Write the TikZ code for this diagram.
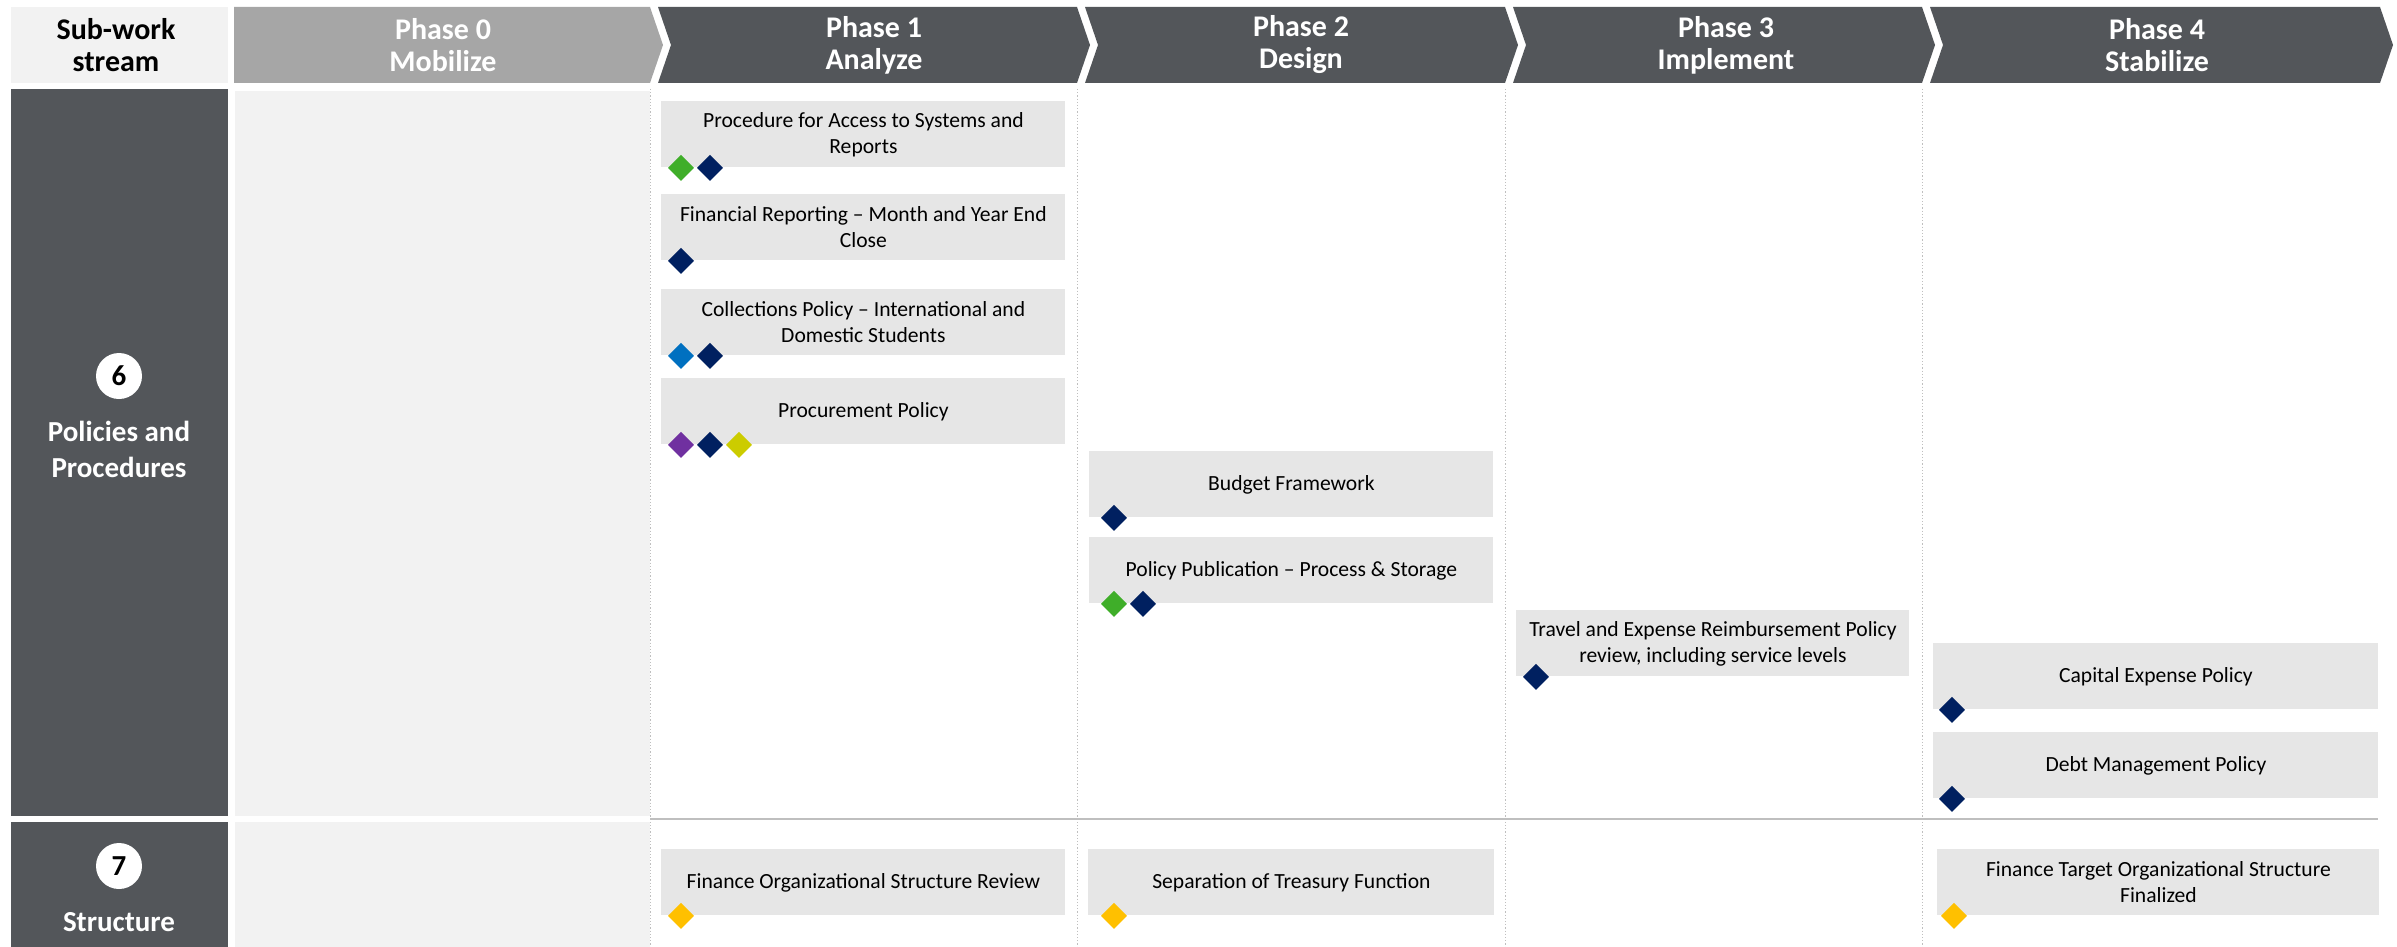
\documentclass[tikz,border=0pt]{standalone}
\usepackage{fontspec}
\setmainfont{Carlito}
\usetikzlibrary{calc}

\definecolor{slate}{HTML}{53565A}
\definecolor{phasegray}{HTML}{A6A6A6}
\definecolor{palegray}{HTML}{F2F2F2}
\definecolor{boxgray}{HTML}{E6E6E6}
\definecolor{linegray}{HTML}{BFBFBF}
\definecolor{mknavy}{HTML}{002060}
\definecolor{mkgreen}{HTML}{3FAE29}
\definecolor{mkblue}{HTML}{0070C0}
\definecolor{mkplum}{HTML}{7030A0}
\definecolor{mkolive}{HTML}{CCCC00}
\definecolor{mkgold}{HTML}{FFC000}

% diamond marker sitting on a point
\newcommand{\gem}[2]{\fill[#1] (#2) +(-13,0) -- +(0,-13) -- +(13,0) -- +(0,13) -- cycle;}

\tikzset{
  task/.style={fill=boxgray, anchor=north west, minimum width=#1, minimum height=33pt,
    inner sep=0pt, align=center, font=\fontsize{10.8}{13}\selectfont},
  phase/.style={text=white, align=center, font=\bfseries\fontsize{15}{16}\selectfont},
  lane/.style={text=white, align=center, font=\bfseries\fontsize{14.5}{18}\selectfont},
  badge/.style={circle, fill=white, minimum size=23pt, inner sep=0pt,
    font=\bfseries\fontsize{14.5}{16}\selectfont}
}

\begin{document}
\begin{tikzpicture}[x=0.5pt,y=-0.5pt]
    \useasboundingbox (0,0) rectangle (2397,947);

    % Header row
    \fill[palegray] (11,7) rectangle (228,83);
    \fill[phasegray] (234,7) -- (650,7) -- (663,45) -- (650,83) -- (234,83) -- cycle;
    \fill[slate] (658,7) -- (1077,7) -- (1090,45) -- (1077,83) -- (658,83) -- (671,45) -- cycle;
    \fill[slate] (1085,7) -- (1505,7) -- (1518,45) -- (1505,83) -- (1085,83) -- (1098,45) -- cycle;
    \fill[slate] (1513,7) -- (1922,7) -- (1935,45) -- (1922,83) -- (1513,83) -- (1526,45) -- cycle;
    \fill[slate] (1930,7) -- (2380,7) -- (2393,45) -- (2380,83) -- (1930,83) -- (1943,45) -- cycle;

    \node[phase, text=black] (sub) at (116,45) {Sub-work\\stream};
    \node[phase] (ph0) at (443,45) {Phase 0\\Mobilize};
    \node[phase] (ph1) at (874,45) {Phase 1\\Analyze};
    \node[phase] (ph2) at (1301,45) {Phase 2\\Design};
    \node[phase] (ph3) at (1726,45) {Phase 3\\Implement};
    \node[phase] (ph4) at (2157,45) {Phase 4\\Stabilize};

    % Lane backgrounds
    \fill[slate] (11,89) rectangle (228,816);
    \fill[slate] (11,822) rectangle (228,947);
    \fill[palegray] (235,91) rectangle (650,816);
    \fill[palegray] (235,822) rectangle (650,947);

    % Column split lines
    \draw[linegray, line width=0.5pt, dash pattern=on 0.6pt off 1pt] (650,89) -- (650,947);
    \draw[linegray, line width=0.5pt, dash pattern=on 0.6pt off 1pt] (1077,89) -- (1077,947);
    \draw[linegray, line width=0.5pt, dash pattern=on 0.6pt off 1pt] (1505,89) -- (1505,947);
    \draw[linegray, line width=0.5pt, dash pattern=on 0.6pt off 1pt] (1922,89) -- (1922,947);
    \draw[linegray, line width=1pt] (650,819) -- (2378,819);

    % Lane labels
    \node[badge] (n6) at (119,376) {6};
    \node[lane] (l6) at (119,449) {Policies and\\Procedures};
    \node[badge] (n7) at (119,866) {7};
    \node[lane] (l7) at (119,922) {Structure};

    % Phase 1 tasks
    \node[task=202pt] (acc) at (661,101) {Procedure for Access to Systems and\\Reports};
    \node[task=202pt] (fin) at (661,194) {Financial Reporting -- Month and Year End\\Close};
    \node[task=202pt] (col) at (661,289) {Collections Policy -- International and\\Domestic Students};
    \node[task=202pt] (pro) at (661,378) {Procurement Policy};

    % Phase 2 tasks
    \node[task=202pt] (bud) at (1089,451) {Budget Framework};
    \node[task=202pt] (pub) at (1089,537) {Policy Publication -- Process \& Storage};

    % Phase 3 and 4 tasks
    \node[task=196.5pt] (trv) at (1516,610) {Travel and Expense Reimbursement Policy\\review, including service levels};
    \node[task=222.5pt] (cap) at (1933,643) {Capital Expense Policy};
    \node[task=222.5pt] (dbt) at (1933,732) {Debt Management Policy};

    % Structure tasks
    \node[task=202pt] (org) at (661,849) {Finance Organizational Structure Review};
    \node[task=203pt] (trs) at (1088,849) {Separation of Treasury Function};
    \node[task=221pt] (tgt) at (1937,849) {Finance Target Organizational Structure\\Finalized};

    % Markers
    \gem{mkgreen}{$(acc.south west)+(20,0)$}
    \gem{mknavy}{$(acc.south west)+(49,0)$}
    \gem{mknavy}{$(fin.south west)+(20,0)$}
    \gem{mkblue}{$(col.south west)+(20,0)$}
    \gem{mknavy}{$(col.south west)+(49,0)$}
    \gem{mkplum}{$(pro.south west)+(20,0)$}
    \gem{mknavy}{$(pro.south west)+(49,0)$}
    \gem{mkolive}{$(pro.south west)+(78,0)$}
    \gem{mknavy}{$(bud.south west)+(25,0)$}
    \gem{mkgreen}{$(pub.south west)+(25,0)$}
    \gem{mknavy}{$(pub.south west)+(54,0)$}
    \gem{mknavy}{$(trv.south west)+(20,0)$}
    \gem{mknavy}{$(cap.south west)+(19,0)$}
    \gem{mknavy}{$(dbt.south west)+(19,0)$}
    \gem{mkgold}{$(org.south west)+(20,0)$}
    \gem{mkgold}{$(trs.south west)+(26,0)$}
    \gem{mkgold}{$(tgt.south west)+(17,0)$}

\end{tikzpicture}
\end{document}
